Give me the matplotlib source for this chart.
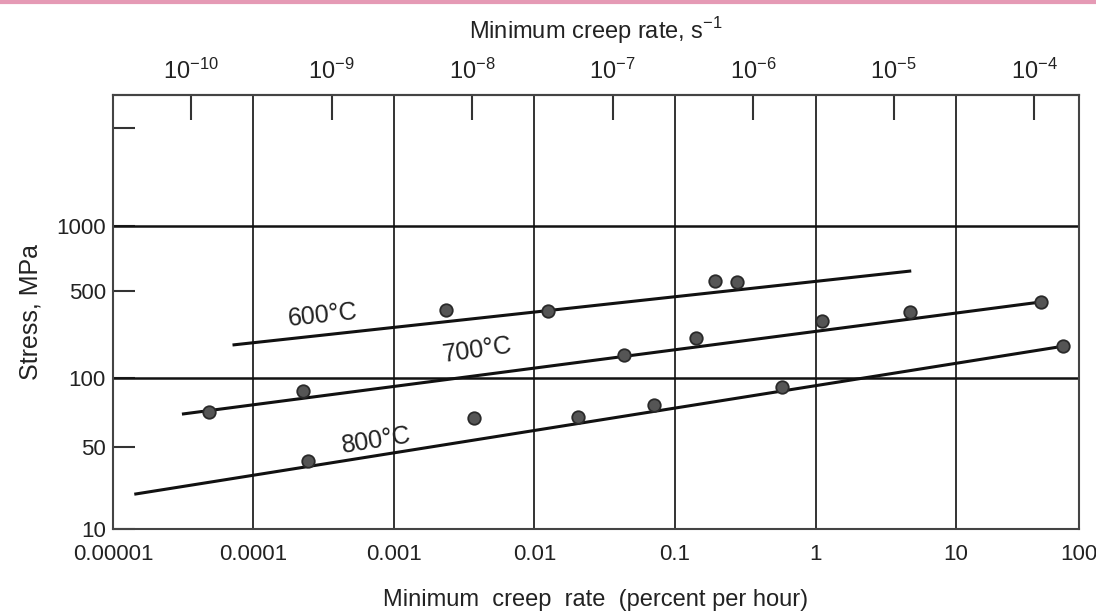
import matplotlib
matplotlib.use("Agg")
import matplotlib.pyplot as plt
from matplotlib.ticker import NullLocator
from matplotlib.lines import Line2D

plt.rcParams['font.family'] = ['Liberation Sans', 'DejaVu Sans']
plt.rcParams['mathtext.fontset'] = 'custom'
plt.rcParams['mathtext.rm'] = 'Liberation Sans'

# ---- data (creep rate in percent per hour, stress in MPa) ----
rate_600 = [0.00235, 0.0124, 0.192, 0.275]
stress_600 = [279, 275, 434, 427]
fit_rate_600 = [7.1e-5, 4.8]
fit_stress_600 = [164, 505]

rate_700 = [4.8e-5, 2.24e-4, 0.0435, 0.141, 1.11, 4.7, 40]
stress_700 = [59, 81.5, 141, 182, 236, 271, 315]
fit_rate_700 = [3.1e-5, 40]
fit_stress_700 = [57.4, 315]

rate_800 = [2.43e-4, 0.00373, 0.0205, 0.071, 0.58, 58]
stress_800 = [28.1, 54, 54.8, 65.8, 86.5, 161]
fit_rate_800 = [1.42e-5, 58]
fit_stress_800 = [17.0, 161]

labels = ['600°C', '700°C', '800°C']
label_x = [3.1e-4, 3.9e-3, 7.5e-4]
label_y = [259, 152, 38.6]
label_rot = [6, 8, 9]

# tick marks sit where the reference draws them (its last decade is cut short)
x_ticks = [1e-5, 1e-4, 1e-3, 1e-2, 1e-1, 1, 10, 75]
x_labels = ['0.00001', '0.0001', '0.001', '0.01', '0.1', '1', '10', '100']
y_ticks = [10, 35, 100, 370, 1000, 4400]
y_labels = ['10', '50', '100', '500', '1000', '']
y_grid = [100, 1000]
top_ticks = [1e-10, 1e-9, 1e-8, 1e-7, 1e-6, 1e-5, 1e-4]
top_labels = [r'$\mathregular{10^{-%d}}$' % k for k in range(10, 3, -1)]

ink = '#222222'

fig = plt.figure(figsize=(10.96, 6.16), dpi=100)
ax = fig.add_axes([0.103, 0.141, 0.8815, 0.7046])
ax.set_xscale('log')
ax.set_yscale('log')
ax.set_xlim(1e-5, 75)
ax.set_ylim(10, 7300)

# grid: every decade vertically, 100 and 1000 horizontally
ax.set_xticks(x_ticks)
ax.set_xticklabels(x_labels)
ax.xaxis.set_minor_locator(NullLocator())
ax.grid(True, axis='x', color='#333333', linewidth=1.4)
for yv in y_grid:
    ax.axhline(yv, color='#111111', linewidth=1.8)

ax.set_yticks(y_ticks)
ax.set_yticklabels(y_labels)
ax.yaxis.set_minor_locator(NullLocator())

ax.tick_params(axis='x', length=0, pad=11, labelsize=16, labelcolor=ink)
ax.tick_params(axis='y', direction='in', length=16, width=1.5, color='#333333',
               pad=5, labelsize=16, labelcolor=ink)
for s in ax.spines.values():
    s.set_color('#444444')
    s.set_linewidth(1.5)

# fitted lines and points
for fx, fy in [(fit_rate_600, fit_stress_600), (fit_rate_700, fit_stress_700),
               (fit_rate_800, fit_stress_800)]:
    ax.plot(fx, fy, color='#111111', linewidth=2.2, solid_capstyle='butt', zorder=3)
for rx, sy in [(rate_600, stress_600), (rate_700, stress_700), (rate_800, stress_800)]:
    ax.plot(rx, sy, 'o', markersize=9, markerfacecolor='#555555',
            markeredgecolor='#2a2a2a', markeredgewidth=1.3, zorder=4)

for t, lx, ly, r in zip(labels, label_x, label_y, label_rot):
    ax.text(lx, ly, t, fontsize=18, color=ink, rotation=r,
            ha='center', va='center', rotation_mode='anchor', zorder=5)

ax.set_ylabel('Stress, MPa', fontsize=18, color=ink, labelpad=10)
ax.set_xlabel('Minimum  creep  rate  (percent per hour)', fontsize=17,
              color=ink, labelpad=17)

# top axis in s^-1
sec = ax.secondary_xaxis('top', functions=(lambda x: x / 100.0 / 3600.0,
                                           lambda s: s * 3600.0 * 100.0))
sec.set_xticks(top_ticks)
sec.set_xticklabels(top_labels)
sec.xaxis.set_minor_locator(NullLocator())
sec.tick_params(direction='in', length=18, width=1.5, color='#333333',
                pad=8, labelsize=17, labelcolor=ink)
sec.spines['top'].set_color('#444444')
sec.spines['top'].set_linewidth(1.5)
sec.set_xlabel(r'Minimum creep rate, s$^{\mathregular{-1}}$', fontsize=17,
               color=ink, labelpad=14)

# thin pink rule along the top edge of the scan
fig.add_artist(Line2D([0, 1], [0.997, 0.997], color='#e59ab5', linewidth=3))

fig.savefig('out.png', dpi=100, facecolor='white')
